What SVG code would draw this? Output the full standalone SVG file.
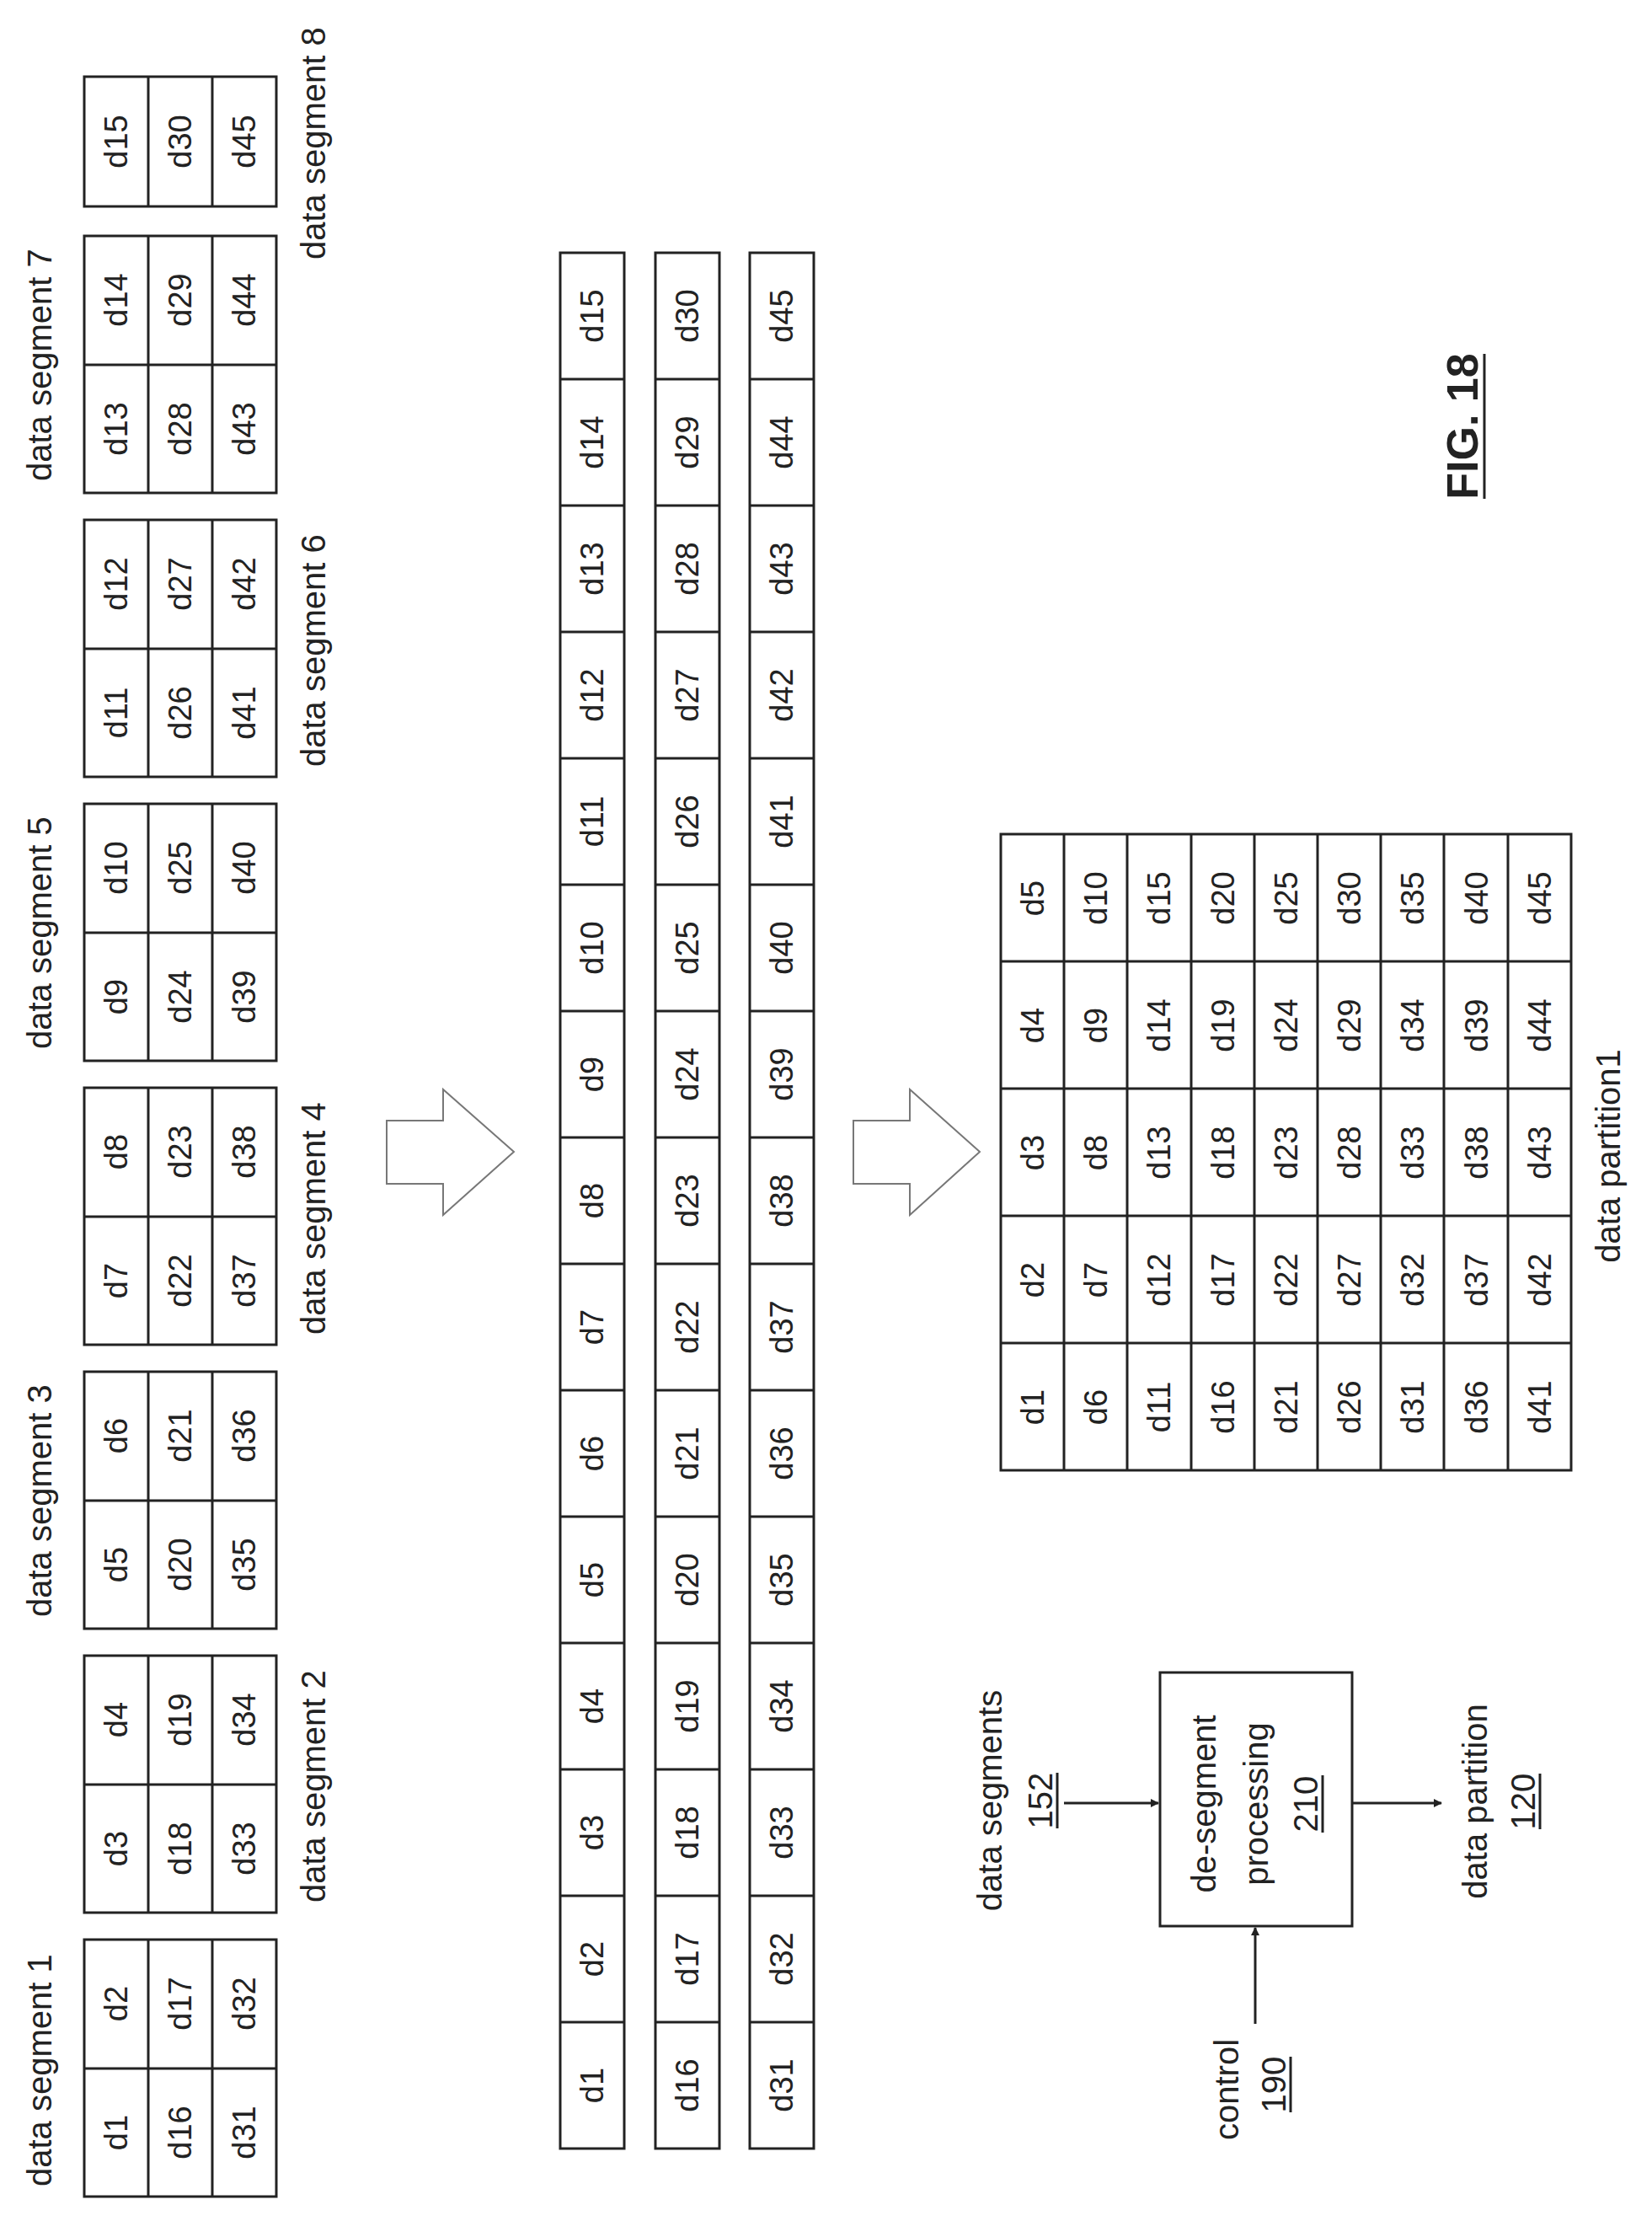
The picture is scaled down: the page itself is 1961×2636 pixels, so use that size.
<svg xmlns="http://www.w3.org/2000/svg" width="1961" height="2636" viewBox="0 0 1961 2636">
<style>
.c{fill:none;stroke:#222;stroke-width:3}
.t{font-family:"Liberation Sans",Arial,sans-serif;font-size:38px;fill:#222;text-anchor:middle}
.l{font-family:"Liberation Sans",Arial,sans-serif;font-size:40px;fill:#222}
.m{text-anchor:middle}
.ba{fill:#fff;stroke:#777;stroke-width:2}
.ln{stroke:#222;stroke-width:3}
</style>
<defs>
<marker id="ah" markerWidth="10" markerHeight="10" refX="9" refY="5" orient="auto" markerUnits="userSpaceOnUse" viewBox="0 0 10 10"><path d="M0,0L10,5L0,10z" fill="#222"/></marker>
</defs>
<rect width="1961" height="2636" fill="#fff"/>

<!-- segment tables -->
<g id="seg1">
<rect class="c" x="100" y="2302" width="228" height="305"/><line class="ln" x1="176" y1="2302" x2="176" y2="2607"/><line class="ln" x1="252" y1="2302" x2="252" y2="2607"/><line class="ln" x1="100" y1="2455" x2="328" y2="2455"/>
<text class="t" transform="translate(151,2531) rotate(-90)">d1</text><text class="t" transform="translate(151,2378) rotate(-90)">d2</text>
<text class="t" transform="translate(227,2531) rotate(-90)">d16</text><text class="t" transform="translate(227,2378) rotate(-90)">d17</text>
<text class="t" transform="translate(303,2531) rotate(-90)">d31</text><text class="t" transform="translate(303,2378) rotate(-90)">d32</text>
<text class="l" transform="translate(61,2595) rotate(-90)">data segment 1</text>
</g>
<g id="seg2">
<rect class="c" x="100" y="1965" width="228" height="305"/><line class="ln" x1="176" y1="1965" x2="176" y2="2270"/><line class="ln" x1="252" y1="1965" x2="252" y2="2270"/><line class="ln" x1="100" y1="2118" x2="328" y2="2118"/>
<text class="t" transform="translate(151,2194) rotate(-90)">d3</text><text class="t" transform="translate(151,2041) rotate(-90)">d4</text>
<text class="t" transform="translate(227,2194) rotate(-90)">d18</text><text class="t" transform="translate(227,2041) rotate(-90)">d19</text>
<text class="t" transform="translate(303,2194) rotate(-90)">d33</text><text class="t" transform="translate(303,2041) rotate(-90)">d34</text>
<text class="l" transform="translate(386,2258) rotate(-90)">data segment 2</text>
</g>
<g id="seg3">
<rect class="c" x="100" y="1628" width="228" height="305"/><line class="ln" x1="176" y1="1628" x2="176" y2="1933"/><line class="ln" x1="252" y1="1628" x2="252" y2="1933"/><line class="ln" x1="100" y1="1781" x2="328" y2="1781"/>
<text class="t" transform="translate(151,1857) rotate(-90)">d5</text><text class="t" transform="translate(151,1704) rotate(-90)">d6</text>
<text class="t" transform="translate(227,1857) rotate(-90)">d20</text><text class="t" transform="translate(227,1704) rotate(-90)">d21</text>
<text class="t" transform="translate(303,1857) rotate(-90)">d35</text><text class="t" transform="translate(303,1704) rotate(-90)">d36</text>
<text class="l" transform="translate(61,1919) rotate(-90)">data segment 3</text>
</g>
<g id="seg4">
<rect class="c" x="100" y="1291" width="228" height="305"/><line class="ln" x1="176" y1="1291" x2="176" y2="1596"/><line class="ln" x1="252" y1="1291" x2="252" y2="1596"/><line class="ln" x1="100" y1="1444" x2="328" y2="1444"/>
<text class="t" transform="translate(151,1520) rotate(-90)">d7</text><text class="t" transform="translate(151,1367) rotate(-90)">d8</text>
<text class="t" transform="translate(227,1520) rotate(-90)">d22</text><text class="t" transform="translate(227,1367) rotate(-90)">d23</text>
<text class="t" transform="translate(303,1520) rotate(-90)">d37</text><text class="t" transform="translate(303,1367) rotate(-90)">d38</text>
<text class="l" transform="translate(386,1584) rotate(-90)">data segment 4</text>
</g>
<g id="seg5">
<rect class="c" x="100" y="954" width="228" height="305"/><line class="ln" x1="176" y1="954" x2="176" y2="1259"/><line class="ln" x1="252" y1="954" x2="252" y2="1259"/><line class="ln" x1="100" y1="1107" x2="328" y2="1107"/>
<text class="t" transform="translate(151,1183) rotate(-90)">d9</text><text class="t" transform="translate(151,1030) rotate(-90)">d10</text>
<text class="t" transform="translate(227,1183) rotate(-90)">d24</text><text class="t" transform="translate(227,1030) rotate(-90)">d25</text>
<text class="t" transform="translate(303,1183) rotate(-90)">d39</text><text class="t" transform="translate(303,1030) rotate(-90)">d40</text>
<text class="l" transform="translate(61,1245) rotate(-90)">data segment 5</text>
</g>
<g id="seg6">
<rect class="c" x="100" y="617" width="228" height="305"/><line class="ln" x1="176" y1="617" x2="176" y2="922"/><line class="ln" x1="252" y1="617" x2="252" y2="922"/><line class="ln" x1="100" y1="770" x2="328" y2="770"/>
<text class="t" transform="translate(151,846) rotate(-90)">d11</text><text class="t" transform="translate(151,693) rotate(-90)">d12</text>
<text class="t" transform="translate(227,846) rotate(-90)">d26</text><text class="t" transform="translate(227,693) rotate(-90)">d27</text>
<text class="t" transform="translate(303,846) rotate(-90)">d41</text><text class="t" transform="translate(303,693) rotate(-90)">d42</text>
<text class="l" transform="translate(386,910) rotate(-90)">data segment 6</text>
</g>
<g id="seg7">
<rect class="c" x="100" y="280" width="228" height="305"/><line class="ln" x1="176" y1="280" x2="176" y2="585"/><line class="ln" x1="252" y1="280" x2="252" y2="585"/><line class="ln" x1="100" y1="433" x2="328" y2="433"/>
<text class="t" transform="translate(151,509) rotate(-90)">d13</text><text class="t" transform="translate(151,356) rotate(-90)">d14</text>
<text class="t" transform="translate(227,509) rotate(-90)">d28</text><text class="t" transform="translate(227,356) rotate(-90)">d29</text>
<text class="t" transform="translate(303,509) rotate(-90)">d43</text><text class="t" transform="translate(303,356) rotate(-90)">d44</text>
<text class="l" transform="translate(61,571) rotate(-90)">data segment 7</text>
</g>
<g id="seg8">
<rect class="c" x="100" y="91" width="228" height="154"/><line class="ln" x1="176" y1="91" x2="176" y2="245"/><line class="ln" x1="252" y1="91" x2="252" y2="245"/>
<text class="t" transform="translate(151,168) rotate(-90)">d15</text>
<text class="t" transform="translate(227,168) rotate(-90)">d30</text>
<text class="t" transform="translate(303,168) rotate(-90)">d45</text>
<text class="l" transform="translate(386,308) rotate(-90)">data segment 8</text>
</g>

<!-- long rows -->
<g id="row1">
<rect class="c" x="665" y="300" width="76" height="2250"/>
<path class="ln" d="M665,450H741M665,600H741M665,750H741M665,900H741M665,1050H741M665,1200H741M665,1350H741M665,1500H741M665,1650H741M665,1800H741M665,1950H741M665,2100H741M665,2250H741M665,2400H741"/>
<g class="t">
<text transform="translate(716,2475) rotate(-90)">d1</text><text transform="translate(716,2325) rotate(-90)">d2</text><text transform="translate(716,2175) rotate(-90)">d3</text><text transform="translate(716,2025) rotate(-90)">d4</text><text transform="translate(716,1875) rotate(-90)">d5</text><text transform="translate(716,1725) rotate(-90)">d6</text><text transform="translate(716,1575) rotate(-90)">d7</text><text transform="translate(716,1425) rotate(-90)">d8</text><text transform="translate(716,1275) rotate(-90)">d9</text><text transform="translate(716,1125) rotate(-90)">d10</text><text transform="translate(716,975) rotate(-90)">d11</text><text transform="translate(716,825) rotate(-90)">d12</text><text transform="translate(716,675) rotate(-90)">d13</text><text transform="translate(716,525) rotate(-90)">d14</text><text transform="translate(716,375) rotate(-90)">d15</text>
</g>
</g>
<g id="row2">
<rect class="c" x="778" y="300" width="76" height="2250"/>
<path class="ln" d="M778,450H854M778,600H854M778,750H854M778,900H854M778,1050H854M778,1200H854M778,1350H854M778,1500H854M778,1650H854M778,1800H854M778,1950H854M778,2100H854M778,2250H854M778,2400H854"/>
<g class="t">
<text transform="translate(829,2475) rotate(-90)">d16</text><text transform="translate(829,2325) rotate(-90)">d17</text><text transform="translate(829,2175) rotate(-90)">d18</text><text transform="translate(829,2025) rotate(-90)">d19</text><text transform="translate(829,1875) rotate(-90)">d20</text><text transform="translate(829,1725) rotate(-90)">d21</text><text transform="translate(829,1575) rotate(-90)">d22</text><text transform="translate(829,1425) rotate(-90)">d23</text><text transform="translate(829,1275) rotate(-90)">d24</text><text transform="translate(829,1125) rotate(-90)">d25</text><text transform="translate(829,975) rotate(-90)">d26</text><text transform="translate(829,825) rotate(-90)">d27</text><text transform="translate(829,675) rotate(-90)">d28</text><text transform="translate(829,525) rotate(-90)">d29</text><text transform="translate(829,375) rotate(-90)">d30</text>
</g>
</g>
<g id="row3">
<rect class="c" x="890" y="300" width="76" height="2250"/>
<path class="ln" d="M890,450H966M890,600H966M890,750H966M890,900H966M890,1050H966M890,1200H966M890,1350H966M890,1500H966M890,1650H966M890,1800H966M890,1950H966M890,2100H966M890,2250H966M890,2400H966"/>
<g class="t">
<text transform="translate(941,2475) rotate(-90)">d31</text><text transform="translate(941,2325) rotate(-90)">d32</text><text transform="translate(941,2175) rotate(-90)">d33</text><text transform="translate(941,2025) rotate(-90)">d34</text><text transform="translate(941,1875) rotate(-90)">d35</text><text transform="translate(941,1725) rotate(-90)">d36</text><text transform="translate(941,1575) rotate(-90)">d37</text><text transform="translate(941,1425) rotate(-90)">d38</text><text transform="translate(941,1275) rotate(-90)">d39</text><text transform="translate(941,1125) rotate(-90)">d40</text><text transform="translate(941,975) rotate(-90)">d41</text><text transform="translate(941,825) rotate(-90)">d42</text><text transform="translate(941,675) rotate(-90)">d43</text><text transform="translate(941,525) rotate(-90)">d44</text><text transform="translate(941,375) rotate(-90)">d45</text>
</g>
</g>

<!-- block arrows -->
<g id="arrow1"><polygon class="ba" points="459,1330 526,1330 526,1293 610,1367 526,1442 526,1405 459,1405"/></g>
<g id="arrow2"><polygon class="ba" points="1013,1330 1080,1330 1080,1293 1163,1367 1080,1442 1080,1405 1013,1405"/></g>

<!-- partition table -->
<g id="partition">
<rect class="c" x="1188" y="990" width="677" height="755"/>
<path class="ln" d="M1263,990V1745M1338,990V1745M1414,990V1745M1489,990V1745M1564,990V1745M1639,990V1745M1714,990V1745M1790,990V1745M1188,1141H1865M1188,1292H1865M1188,1443H1865M1188,1594H1865"/>
<g class="t">
<text transform="translate(1239,1670) rotate(-90)">d1</text><text transform="translate(1239,1519) rotate(-90)">d2</text><text transform="translate(1239,1368) rotate(-90)">d3</text><text transform="translate(1239,1217) rotate(-90)">d4</text><text transform="translate(1239,1066) rotate(-90)">d5</text>
<text transform="translate(1314,1670) rotate(-90)">d6</text><text transform="translate(1314,1519) rotate(-90)">d7</text><text transform="translate(1314,1368) rotate(-90)">d8</text><text transform="translate(1314,1217) rotate(-90)">d9</text><text transform="translate(1314,1066) rotate(-90)">d10</text>
<text transform="translate(1389,1670) rotate(-90)">d11</text><text transform="translate(1389,1519) rotate(-90)">d12</text><text transform="translate(1389,1368) rotate(-90)">d13</text><text transform="translate(1389,1217) rotate(-90)">d14</text><text transform="translate(1389,1066) rotate(-90)">d15</text>
<text transform="translate(1465,1670) rotate(-90)">d16</text><text transform="translate(1465,1519) rotate(-90)">d17</text><text transform="translate(1465,1368) rotate(-90)">d18</text><text transform="translate(1465,1217) rotate(-90)">d19</text><text transform="translate(1465,1066) rotate(-90)">d20</text>
<text transform="translate(1540,1670) rotate(-90)">d21</text><text transform="translate(1540,1519) rotate(-90)">d22</text><text transform="translate(1540,1368) rotate(-90)">d23</text><text transform="translate(1540,1217) rotate(-90)">d24</text><text transform="translate(1540,1066) rotate(-90)">d25</text>
<text transform="translate(1615,1670) rotate(-90)">d26</text><text transform="translate(1615,1519) rotate(-90)">d27</text><text transform="translate(1615,1368) rotate(-90)">d28</text><text transform="translate(1615,1217) rotate(-90)">d29</text><text transform="translate(1615,1066) rotate(-90)">d30</text>
<text transform="translate(1690,1670) rotate(-90)">d31</text><text transform="translate(1690,1519) rotate(-90)">d32</text><text transform="translate(1690,1368) rotate(-90)">d33</text><text transform="translate(1690,1217) rotate(-90)">d34</text><text transform="translate(1690,1066) rotate(-90)">d35</text>
<text transform="translate(1766,1670) rotate(-90)">d36</text><text transform="translate(1766,1519) rotate(-90)">d37</text><text transform="translate(1766,1368) rotate(-90)">d38</text><text transform="translate(1766,1217) rotate(-90)">d39</text><text transform="translate(1766,1066) rotate(-90)">d40</text>
<text transform="translate(1841,1670) rotate(-90)">d41</text><text transform="translate(1841,1519) rotate(-90)">d42</text><text transform="translate(1841,1368) rotate(-90)">d43</text><text transform="translate(1841,1217) rotate(-90)">d44</text><text transform="translate(1841,1066) rotate(-90)">d45</text>
</g>
<text class="l m" transform="translate(1923,1372) rotate(-90)">data partition1</text>
</g>

<!-- de-segment block -->
<g id="desegment">
<rect class="c" x="1377" y="1985" width="228" height="301"/>
<text class="l m" transform="translate(1443,2141) rotate(-90)">de-segment</text>
<text class="l m" transform="translate(1505,2141) rotate(-90)">processing</text>
<text class="l m" transform="translate(1564,2141) rotate(-90)">210</text>
<line class="ln" x1="1570" y1="2107" x2="1570" y2="2175"/>
</g>
<g id="lbl-segments">
<text class="l m" transform="translate(1189,2137) rotate(-90)">data segments</text>
<text class="l m" transform="translate(1249,2137) rotate(-90)">152</text>
<line class="ln" x1="1255" y1="2104" x2="1255" y2="2170"/>
</g>
<g id="lbl-partition">
<text class="l m" transform="translate(1765,2138) rotate(-90)">data partition</text>
<text class="l m" transform="translate(1822,2138) rotate(-90)">120</text>
<line class="ln" x1="1828" y1="2105" x2="1828" y2="2171"/>
</g>
<g id="lbl-control">
<text class="l m" transform="translate(1470,2480) rotate(-90)">control</text>
<text class="l m" transform="translate(1526,2474) rotate(-90)">190</text>
<line class="ln" x1="1532" y1="2441" x2="1532" y2="2507"/>
</g>

<g id="connectors">
<line class="ln" x1="1263" y1="2140" x2="1375" y2="2140" marker-end="url(#ah)"/>
<line class="ln" x1="1605" y1="2140" x2="1711" y2="2140" marker-end="url(#ah)"/>
<line class="ln" x1="1490" y1="2402" x2="1490" y2="2288" marker-end="url(#ah)"/>
</g>

<g id="fig">
<text class="l m" style="font-size:52px;font-weight:bold" transform="translate(1754,506) rotate(-90)">FIG. 18</text>
<line class="ln" x1="1762" y1="420" x2="1762" y2="592"/>
</g>
</svg>
